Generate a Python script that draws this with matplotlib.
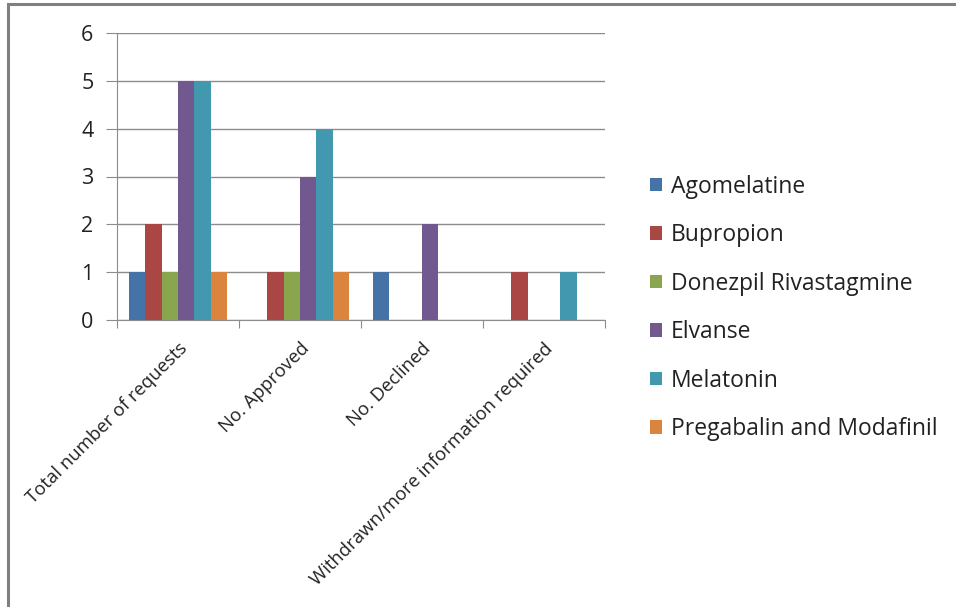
import numpy as np
import matplotlib
matplotlib.use("Agg")
import matplotlib.pyplot as plt
from matplotlib.lines import Line2D

# -----------------------------
# Dados
# -----------------------------
categorias = [
    "Total number of requests",
    "No. Approved",
    "No. Declined",
    "Withdrawn/more information required",
]
medicamentos = [
    "Agomelatine",
    "Bupropion",
    "Donezpil Rivastagmine",
    "Elvanse",
    "Melatonin",
    "Pregabalin and Modafinil",
]
agomelatine = [1, 0, 1, 0]
bupropion = [2, 1, 0, 1]
donezpil = [1, 1, 0, 0]
elvanse = [5, 3, 2, 0]
melatonin = [5, 4, 0, 1]
pregabalin = [1, 1, 0, 0]
series = [agomelatine, bupropion, donezpil, elvanse, melatonin, pregabalin]
cores = ["#4572A7", "#AA4643", "#89A54E", "#71588F", "#4198AF", "#DB843D"]

plt.rcParams["font.family"] = ["Open Sans", "DejaVu Sans"]

fig = plt.figure(figsize=(9.56, 6.07), dpi=100)
ax = fig.add_axes([117 / 956, 1 - 320 / 607, (605 - 117) / 956, (320 - 33) / 607])

n = len(series)
larg = 0.8 / n
x = np.arange(len(categorias))
for i, (vals, cor, nome) in enumerate(zip(series, cores, medicamentos)):
    ax.bar(x - 0.4 + larg * (i + 0.5), vals, width=larg, color=cor, label=nome, zorder=3)

ax.set_xlim(-0.5, len(categorias) - 0.5)
ax.set_ylim(0, 6)
ax.set_yticks(range(0, 7))
ax.yaxis.grid(True, color="#8c8c8c", linewidth=1.0, zorder=0)
ax.tick_params(axis="y", labelsize=15.5, length=8, color="#8c8c8c", pad=9)
for lbl in ax.get_yticklabels():
    lbl.set_color("#222222")

# ticks do eixo x nos limites das categorias
ax.set_xticks(np.arange(-0.5, len(categorias), 1.0))
ax.set_xticklabels([])
ax.tick_params(axis="x", length=6, color="#8c8c8c")
ax.set_xticks(x, minor=True)
ax.set_xticklabels(categorias, minor=True, rotation=45, ha="right",
                   rotation_mode="anchor", fontsize=13.3, color="#222222")
ax.tick_params(axis="x", which="minor", length=0, pad=14)

for s in ["top", "right"]:
    ax.spines[s].set_visible(False)
ax.spines["left"].set_color("#8c8c8c")
ax.spines["bottom"].set_color("#8c8c8c")
ax.set_axisbelow(True)

leg = fig.legend(loc="center left", bbox_to_anchor=(629 / 956, 1 - 308 / 607),
                 frameon=False, fontsize=16.5, handlelength=0.52, handleheight=0.52,
                 handletextpad=0.42, labelspacing=1.07)
for t in leg.get_texts():
    t.set_color("#222222")

# moldura externa (esquerda e topo)
fig.add_artist(Line2D([8 / 956, 8 / 956], [0, 1 - 4 / 607], transform=fig.transFigure,
                      color="#808080", linewidth=2.2))
fig.add_artist(Line2D([8 / 956, 1], [1 - 4 / 607, 1 - 4 / 607], transform=fig.transFigure,
                      color="#808080", linewidth=2.2))

fig.savefig("out.png", dpi=100)
